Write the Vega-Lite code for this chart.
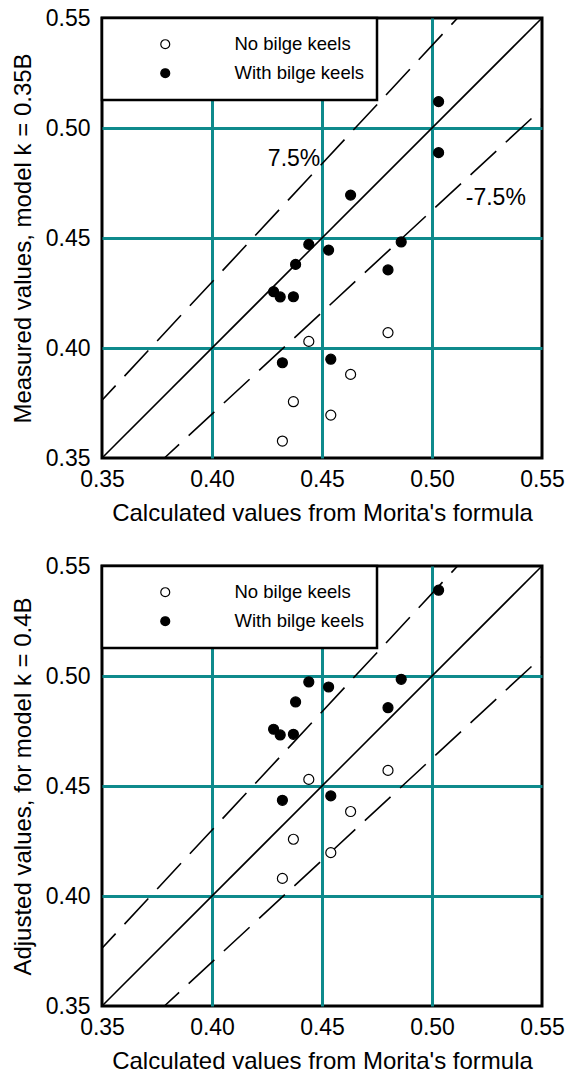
{
  "$schema": "https://vega.github.io/schema/vega-lite/v6.json",
  "padding": {"left": 9, "top": 5, "right": 5, "bottom": 2},
  "spacing": 26,
  "config": {
    "font": "Liberation Sans",
    "view": {"stroke": "black", "strokeWidth": 3},
    "axis": {
      "labelFont": "Liberation Sans",
      "titleFont": "Liberation Sans",
      "labelFontSize": 23,
      "titleFontSize": 24,
      "titleFontWeight": "normal",
      "labelColor": "black",
      "titleColor": "black",
      "labelFlush": false,
      "ticks": false,
      "domain": false,
      "gridWidth": 3,
      "gridOpacity": 1,
      "gridColor": {"condition": {"test": "datum.value < 0.36 || datum.value > 0.54", "value": "transparent"}, "value": "#0E8A8C"}
    },
    "axisX": {"labelPadding": 10, "titlePadding": 10},
    "axisY": {"labelPadding": 12, "titlePadding": 10},
    "legend": {
      "orient": "none",
      "legendX": 0,
      "legendY": 0,
      "title": null,
      "strokeColor": "black",
      "strokeWidth": 2.5,
      "fillColor": "white",
      "padding": 12,
      "clipHeight": 28.4,
      "rowPadding": 0,
      "symbolType": "circle",
      "symbolSize": 80,
      "symbolStrokeColor": "black",
      "symbolStrokeWidth": 1.2,
      "symbolOffset": 42,
      "labelOffset": 60,
      "labelFont": "Liberation Sans",
      "labelFontSize": 18.5,
      "labelColor": "black",
      "labelLimit": 300
    }
  },
  "datasets": {
    "measured": [
      {"calc": 0.444, "value": 0.403, "keel": "No bilge keels"},
      {"calc": 0.480, "value": 0.407, "keel": "No bilge keels"},
      {"calc": 0.463, "value": 0.388, "keel": "No bilge keels"},
      {"calc": 0.437, "value": 0.3756, "keel": "No bilge keels"},
      {"calc": 0.454, "value": 0.3695, "keel": "No bilge keels"},
      {"calc": 0.432, "value": 0.3577, "keel": "No bilge keels"},
      {"calc": 0.503, "value": 0.512, "keel": "With bilge keels"},
      {"calc": 0.503, "value": 0.4888, "keel": "With bilge keels"},
      {"calc": 0.463, "value": 0.4695, "keel": "With bilge keels"},
      {"calc": 0.444, "value": 0.4471, "keel": "With bilge keels"},
      {"calc": 0.453, "value": 0.4445, "keel": "With bilge keels"},
      {"calc": 0.438, "value": 0.438, "keel": "With bilge keels"},
      {"calc": 0.486, "value": 0.4482, "keel": "With bilge keels"},
      {"calc": 0.480, "value": 0.4355, "keel": "With bilge keels"},
      {"calc": 0.428, "value": 0.4256, "keel": "With bilge keels"},
      {"calc": 0.431, "value": 0.4232, "keel": "With bilge keels"},
      {"calc": 0.437, "value": 0.4233, "keel": "With bilge keels"},
      {"calc": 0.432, "value": 0.3933, "keel": "With bilge keels"},
      {"calc": 0.454, "value": 0.3949, "keel": "With bilge keels"}
    ],
    "adjusted": [
      {"calc": 0.444, "value": 0.453, "keel": "No bilge keels"},
      {"calc": 0.480, "value": 0.4571, "keel": "No bilge keels"},
      {"calc": 0.463, "value": 0.4384, "keel": "No bilge keels"},
      {"calc": 0.437, "value": 0.4258, "keel": "No bilge keels"},
      {"calc": 0.454, "value": 0.4197, "keel": "No bilge keels"},
      {"calc": 0.432, "value": 0.408, "keel": "No bilge keels"},
      {"calc": 0.503, "value": 0.539, "keel": "With bilge keels"},
      {"calc": 0.444, "value": 0.4973, "keel": "With bilge keels"},
      {"calc": 0.453, "value": 0.495, "keel": "With bilge keels"},
      {"calc": 0.486, "value": 0.4985, "keel": "With bilge keels"},
      {"calc": 0.438, "value": 0.4882, "keel": "With bilge keels"},
      {"calc": 0.480, "value": 0.4856, "keel": "With bilge keels"},
      {"calc": 0.428, "value": 0.4758, "keel": "With bilge keels"},
      {"calc": 0.431, "value": 0.4732, "keel": "With bilge keels"},
      {"calc": 0.437, "value": 0.4735, "keel": "With bilge keels"},
      {"calc": 0.432, "value": 0.4435, "keel": "With bilge keels"},
      {"calc": 0.454, "value": 0.4455, "keel": "With bilge keels"}
    ],
    "parity": [
      {"calc": 0.35, "value": 0.35},
      {"calc": 0.55, "value": 0.55}
    ],
    "band": [
      {"bound": "+7.5%", "calc": 0.35, "value": 0.37625},
      {"bound": "+7.5%", "calc": 0.51163, "value": 0.55},
      {"bound": "-7.5%", "calc": 0.37838, "value": 0.35},
      {"bound": "-7.5%", "calc": 0.55, "value": 0.50875}
    ],
    "bandLabels": [
      {"calc": 0.4373, "value": 0.486, "text": "7.5%"},
      {"calc": 0.529, "value": 0.4683, "text": "-7.5%"}
    ]
  },
  "resolve": {"scale": {"fill": "independent"}, "legend": {"fill": "independent"}},
  "vconcat": [
    {
      "width": 440,
      "height": 440,
      "encoding": {
        "x": {"field": "calc", "type": "quantitative", "title": "Calculated values from Morita's formula",
              "scale": {"domain": [0.35, 0.55], "nice": false, "zero": false},
              "axis": {"values": [0.35, 0.4, 0.45, 0.5, 0.55], "format": ".2f"}},
        "y": {"field": "value", "type": "quantitative", "title": "Measured values, model k = 0.35B",
              "scale": {"domain": [0.35, 0.55], "nice": false, "zero": false},
              "axis": {"values": [0.35, 0.4, 0.45, 0.5, 0.55], "format": ".2f"}}
      },
      "layer": [
        {"data": {"name": "parity"}, "mark": {"type": "line", "color": "black", "strokeWidth": 1.6}},
        {"data": {"name": "band"}, "mark": {"type": "line", "color": "black", "strokeWidth": 1.6, "strokeDash": [35, 13], "strokeDashOffset": 15},
         "encoding": {"detail": {"field": "bound"}}},
        {"data": {"name": "bandLabels"}, "mark": {"type": "text", "fontSize": 23, "font": "Liberation Sans", "color": "black"},
         "encoding": {"text": {"field": "text"}}},
        {"data": {"name": "measured"}, "mark": {"type": "point", "shape": "circle", "filled": true, "size": 100, "stroke": "black", "strokeWidth": 1.2, "opacity": 1},
         "encoding": {"fill": {"field": "keel", "type": "nominal",
                               "scale": {"domain": ["No bilge keels", "With bilge keels"], "range": ["white", "black"]},
                               "legend": {"encode": {"legend": {"update": {"strokeWidth": {"value": 2.5}}}}}}}}
      ]
    },
    {
      "width": 440,
      "height": 440,
      "encoding": {
        "x": {"field": "calc", "type": "quantitative", "title": "Calculated values from Morita's formula",
              "scale": {"domain": [0.35, 0.55], "nice": false, "zero": false},
              "axis": {"values": [0.35, 0.4, 0.45, 0.5, 0.55], "format": ".2f"}},
        "y": {"field": "value", "type": "quantitative", "title": "Adjusted values, for model k = 0.4B",
              "scale": {"domain": [0.35, 0.55], "nice": false, "zero": false},
              "axis": {"values": [0.35, 0.4, 0.45, 0.5, 0.55], "format": ".2f"}}
      },
      "layer": [
        {"data": {"name": "parity"}, "mark": {"type": "line", "color": "black", "strokeWidth": 1.6}},
        {"data": {"name": "band"}, "mark": {"type": "line", "color": "black", "strokeWidth": 1.6, "strokeDash": [35, 13], "strokeDashOffset": 15},
         "encoding": {"detail": {"field": "bound"}}},
        {"data": {"name": "adjusted"}, "mark": {"type": "point", "shape": "circle", "filled": true, "size": 100, "stroke": "black", "strokeWidth": 1.2, "opacity": 1},
         "encoding": {"fill": {"field": "keel", "type": "nominal",
                               "scale": {"domain": ["No bilge keels", "With bilge keels"], "range": ["white", "black"]},
                               "legend": {"encode": {"legend": {"update": {"strokeWidth": {"value": 2.5}}}}}}}}
      ]
    }
  ]
}
